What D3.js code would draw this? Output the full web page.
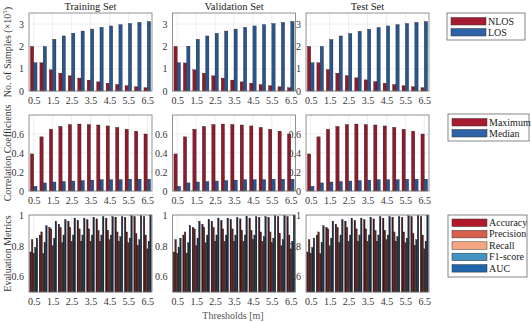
<!DOCTYPE html>
<html>
<head>
<meta charset="utf-8">
<script src="https://cdn.jsdelivr.net/npm/d3@7"></script>
<style>
  body { margin: 0; background: #fff; }
</style>
</head>
<body>
<div id="chart"></div>
<script>
const thresholds = [0.5, 1, 1.5, 2, 2.5, 3, 3.5, 4, 4.5, 5, 5.5, 6, 6.5];
const xTicks = [0.5, 1.5, 2.5, 3.5, 4.5, 5.5, 6.5];
const sets = ["Training Set", "Validation Set", "Test Set"];

// row 1: number of samples (x10^5)
const nlosTrain = [2.0, 1.27, 0.95, 0.8, 0.68, 0.58, 0.49, 0.41, 0.35, 0.29, 0.24, 0.19, 0.15];
const losTrain  = [1.27, 2.0, 2.32, 2.47, 2.59, 2.69, 2.78, 2.86, 2.92, 2.98, 3.03, 3.08, 3.12];
const nlosVal   = [2.0, 1.26, 0.95, 0.8, 0.68, 0.58, 0.49, 0.41, 0.35, 0.29, 0.24, 0.19, 0.15];
const losVal    = [1.27, 2.01, 2.32, 2.47, 2.59, 2.69, 2.78, 2.86, 2.92, 2.98, 3.03, 3.08, 3.12];
const nlosTest  = [2.0, 1.27, 0.96, 0.8, 0.69, 0.59, 0.5, 0.42, 0.35, 0.29, 0.24, 0.19, 0.15];
const losTest   = [1.27, 2.0, 2.31, 2.47, 2.58, 2.68, 2.77, 2.85, 2.92, 2.98, 3.03, 3.08, 3.12];

// row 2: correlation coefficients
const maxCorr    = [0.39, 0.57, 0.65, 0.68, 0.7, 0.705, 0.7, 0.695, 0.685, 0.67, 0.65, 0.63, 0.6];
const medianCorr = [0.05, 0.085, 0.095, 0.1, 0.105, 0.11, 0.115, 0.12, 0.12, 0.12, 0.125, 0.125, 0.125];

// row 3: evaluation metrics
const accuracy  = [0.76, 0.87, 0.92, 0.94, 0.96, 0.965, 0.97, 0.975, 0.98, 0.985, 0.985, 0.99, 0.99];
const precision = [0.84, 0.89, 0.91, 0.92, 0.92, 0.91, 0.91, 0.9, 0.9, 0.89, 0.89, 0.88, 0.87];
const recall    = [0.75, 0.75, 0.8, 0.82, 0.83, 0.83, 0.83, 0.83, 0.84, 0.83, 0.82, 0.8, 0.78];
const f1score   = [0.79, 0.82, 0.85, 0.87, 0.87, 0.87, 0.87, 0.87, 0.87, 0.86, 0.85, 0.84, 0.83];
const auc       = [0.85, 0.93, 0.96, 0.97, 0.98, 0.98, 0.985, 0.99, 0.99, 0.99, 0.995, 0.995, 1.0];

const width = 531, height = 323;
const colLeft = [29, 172.5, 306], plotW = 123;
const serif = '"Liberation Serif", "Times New Roman", serif';
const rows = [
  { top: 13, bottom: 91, domain: [0, 3.5], ticks: [0, 1, 2, 3],
    label: "samples", names: ["NLOS", "LOS"], colors: ["#a51c30", "#2e62a6"], fills: ["#8e1a2c", "#28558c"],
    series: [[nlosTrain, losTrain], [nlosVal, losVal], [nlosTest, losTest]], barFrac: 0.7 },
  { top: 115, bottom: 191, domain: [0, 0.8], ticks: [0, 0.2, 0.4, 0.6],
    label: "Correlation Coefficients", names: ["Maximum", "Median"], colors: ["#a51c30", "#2e62a6"], fills: ["#8e1a2c", "#28558c"],
    series: [[maxCorr, medianCorr], [maxCorr, medianCorr], [maxCorr, medianCorr]], barFrac: 0.7 },
  { top: 215, bottom: 292, domain: [0.5, 1], ticks: [0.6, 0.8, 1],
    label: "Evaluation Metrics", names: ["Accuracy", "Precision", "Recall", "F1-score", "AUC"],
    colors: ["#b2182b", "#d6604d", "#f4a582", "#4393c3", "#2166ac"],
    fills: ["#4a1419", "#5a201c", "#5e2a22", "#1e3040", "#1a2c45"],
    series: [[accuracy, precision, recall, f1score, auc], [accuracy, precision, recall, f1score, auc], [accuracy, precision, recall, f1score, auc]], barFrac: 0.85 }
];
const legendBoxes = [
  { x: 447, y: 13, w: 78, rowH: 11, firstY: 17.5 },
  { x: 448, y: 114, w: 81, rowH: 11, firstY: 118.5 },
  { x: 448, y: 215, w: 79, rowH: 11.4, firstY: 219 }
];

const svg = d3.select("#chart")
  .append("svg")
  .attr("width", width)
  .attr("height", height)
  .attr("viewBox", [0, 0, width, height])
  .style("font-family", serif);

rows.forEach((row, ri) => {
  let y = d3.scaleLinear().domain(row.domain).range([row.bottom, row.top]);

  sets.forEach((setName, ci) => {
    let x = d3.scaleLinear().domain([0.25, 6.75]).range([colLeft[ci], colLeft[ci] + plotW]);
    let g = svg.append("g");

    // grid
    g.append("g").selectAll("line").data(xTicks).join("line")
      .attr("x1", d => x(d)).attr("x2", d => x(d))
      .attr("y1", row.top).attr("y2", row.bottom)
      .attr("stroke", "#e2e2e2").attr("stroke-width", 0.6);
    g.append("g").selectAll("line").data(row.ticks).join("line")
      .attr("x1", x.range()[0]).attr("x2", x.range()[1])
      .attr("y1", d => y(d)).attr("y2", d => y(d))
      .attr("stroke", "#e2e2e2").attr("stroke-width", 0.6);

    // bars
    let n = row.names.length;
    let groupW = x(1) - x(0.5);
    let band = d3.scaleBand().domain(d3.range(n)).range([-groupW * row.barFrac / 2, groupW * row.barFrac / 2]);
    row.series[ci].forEach((vals, si) => {
      g.append("g").selectAll("rect").data(vals).join("rect")
        .attr("x", (d, i) => x(thresholds[i]) + band(si))
        .attr("width", band.bandwidth())
        .attr("y", d => y(d))
        .attr("height", d => y(row.domain[0]) - y(d))
        .attr("fill", row.fills[si])
        .attr("stroke", "#1a1a1a")
        .attr("stroke-width", 0.3);
    });

    // axes
    g.append("g")
      .attr("transform", `translate(0,${row.bottom})`)
      .call(d3.axisBottom(x).tickValues(xTicks).tickSize(0).tickPadding(6).tickFormat(d3.format(".1f")))
      .call(a => a.attr("font-family", null).attr("font-size", 10))
      .call(a => a.selectAll("text").attr("fill", "#333"))
      .call(a => a.select(".domain").remove());
    g.append("g")
      .attr("transform", `translate(${colLeft[ci]},0)`)
      .call(d3.axisLeft(y).tickValues(row.ticks).tickSize(0).tickPadding(5).tickFormat(d => d))
      .call(a => a.attr("font-family", null).attr("font-size", 10))
      .call(a => a.selectAll("text").attr("fill", "#333"))
      .call(a => a.select(".domain").remove());

    g.append("rect")
      .attr("x", colLeft[ci]).attr("y", row.top)
      .attr("width", plotW).attr("height", row.bottom - row.top)
      .attr("fill", "none").attr("stroke", "#777").attr("stroke-width", 0.8);

    if (ri === 0) {
      svg.append("text")
        .attr("x", colLeft[ci] + plotW / 2).attr("y", 10)
        .attr("text-anchor", "middle")
        .attr("font-size", 10.5).attr("fill", "#222")
        .text(setName);
    }
  });

  // y label
  let yl = svg.append("text")
    .attr("transform", `translate(11,${(row.top + row.bottom) / 2}) rotate(-90)`)
    .attr("text-anchor", "middle")
    .attr("font-size", 10).attr("fill", "#333");
  if (row.label === "samples") {
    yl.append("tspan").text("No. of Samples (\u00d710");
    yl.append("tspan").attr("dy", -4).attr("font-size", 7).text("5");
    yl.append("tspan").attr("dy", 4).text(")");
  } else {
    yl.text(row.label);
  }

  // legend
  let lb = legendBoxes[ri];
  let leg = svg.append("g");
  leg.append("rect")
    .attr("x", lb.x).attr("y", lb.y)
    .attr("width", lb.w).attr("height", row.names.length * lb.rowH + 5)
    .attr("fill", "#fff").attr("stroke", "#666").attr("stroke-width", 0.8);
  row.names.forEach((name, i) => {
    leg.append("rect")
      .attr("x", lb.x + 4).attr("y", lb.firstY + i * lb.rowH)
      .attr("width", 35).attr("height", 7.5)
      .attr("fill", row.colors[i]).attr("stroke", "#333").attr("stroke-width", 0.5);
    leg.append("text")
      .attr("x", lb.x + 41).attr("y", lb.firstY + i * lb.rowH + 7)
      .attr("font-size", 10).attr("fill", "#222")
      .text(name);
  });
});

svg.append("text")
  .attr("x", 233).attr("y", 319)
  .attr("text-anchor", "middle")
  .attr("font-size", 10).attr("fill", "#555")
  .text("Thresholds [m]");
</script>
</body>
</html>
